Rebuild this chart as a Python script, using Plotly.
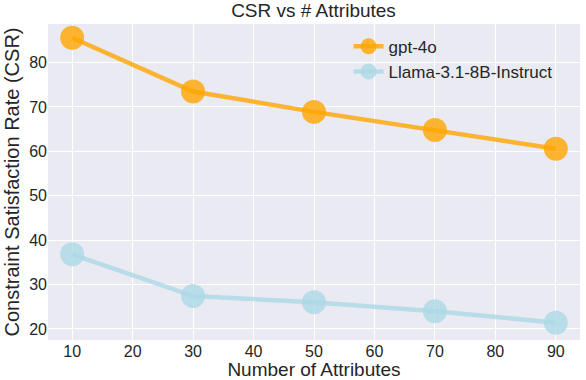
import plotly.graph_objects as go

attributes = [10, 30, 50, 70, 90]
gpt4o_csr = [85.6, 73.5, 68.9, 64.8, 60.6]
llama_csr = [36.8, 27.4, 26.0, 24.0, 21.4]

fig = go.Figure()
fig.add_trace(go.Scatter(
    x=attributes, y=gpt4o_csr, mode="lines+markers", name="gpt-4o",
    line=dict(color="rgba(255,165,0,0.8)", width=4.5),
    marker=dict(color="rgba(255,165,0,0.8)", size=24),
))
fig.add_trace(go.Scatter(
    x=attributes, y=llama_csr, mode="lines+markers", name="Llama-3.1-8B-Instruct",
    line=dict(color="rgba(173,216,230,0.8)", width=4.5),
    marker=dict(color="rgba(173,216,230,0.8)", size=24),
))

fig.update_layout(
    width=586, height=380,
    margin=dict(l=48, r=6, t=24, b=40, autoexpand=False),
    paper_bgcolor="white", plot_bgcolor="#EAEAF2",
    font=dict(family="Liberation Sans, Arial, sans-serif", color="#262626", size=17),
    title=dict(text="CSR vs # Attributes", x=0.535, xanchor="center", y=0.99, yanchor="top",
               font=dict(size=19)),
    legend=dict(x=0.565, y=0.985, xanchor="left", yanchor="top", bgcolor="rgba(0,0,0,0)",
                font=dict(size=17), tracegroupgap=2),
    xaxis=dict(title=dict(text="Number of Attributes", font=dict(size=19)),
               range=[6, 94], tickvals=list(range(10, 100, 10)), gridcolor="white",
               gridwidth=1, zeroline=False, showline=False, ticks="", automargin=False,
               tickfont=dict(size=16)),
    yaxis=dict(title=dict(text="Constraint Satisfaction Rate (CSR)", font=dict(size=20), standoff=4),
               range=[17.5, 88.7], tickvals=list(range(20, 90, 10)), gridcolor="white",
               gridwidth=1, zeroline=False, showline=False, ticks="", automargin=False,
               tickfont=dict(size=16)),
)

# drop the page's default body margin so the figure sits at the window's corner
fig.write_html("out.html", config={"displayModeBar": False},
               post_script="document.body.style.margin='0';")
